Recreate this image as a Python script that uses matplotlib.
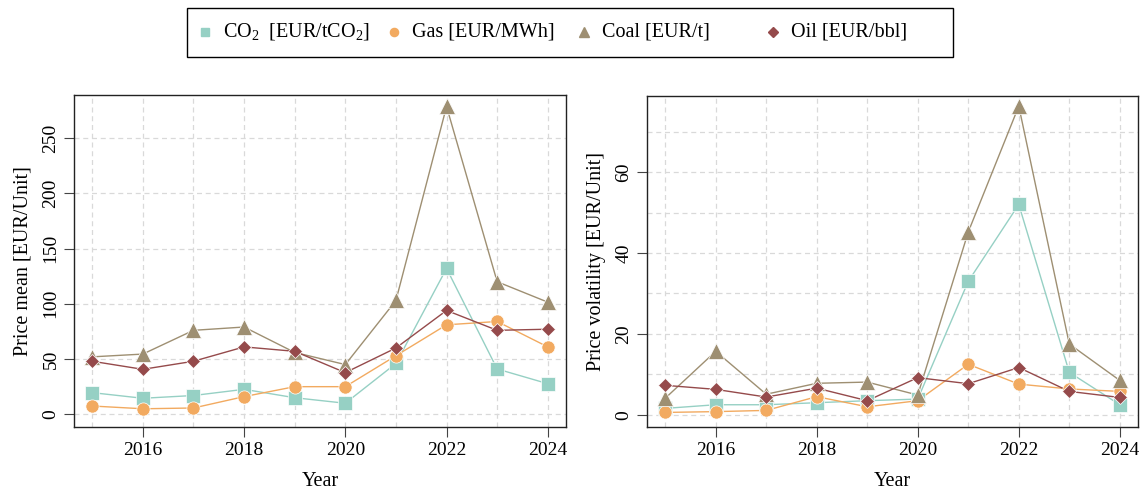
import numpy as np
import matplotlib.pyplot as plt
from matplotlib.ticker import MultipleLocator
from matplotlib.patches import Rectangle
from matplotlib.lines import Line2D

plt.rcParams['font.family'] = ['Liberation Serif', 'DejaVu Serif']
plt.rcParams['mathtext.fontset'] = 'custom'
plt.rcParams['mathtext.rm'] = 'Liberation Serif'
plt.rcParams['mathtext.it'] = 'Liberation Serif'
plt.rcParams['font.size'] = 14

years = [2015, 2016, 2017, 2018, 2019, 2020, 2021, 2022, 2023, 2024]

# price mean
co2_mean = [19.6, 14.5, 17, 22.6, 15, 10, 46, 132, 41, 27.7]
gas_mean = [7.5, 5, 5.7, 16, 25, 25, 53, 81, 84, 61]
coal_mean = [52, 54.5, 76, 79, 56, 45, 103, 278.6, 120, 101.5]
oil_mean = [48, 40.7, 48, 61, 57, 37.7, 60, 94, 76, 77]

# price volatility
co2_vol = [1.6, 2.5, 2.5, 3, 3.5, 3.9, 33, 52, 10.5, 2.5]
gas_vol = [0.6, 0.8, 1.1, 4.5, 2, 3.5, 12.5, 7.6, 6.4, 5.8]
coal_vol = [4.1, 15.7, 5.1, 7.8, 8.1, 4.9, 45.2, 76.3, 17.5, 8.5]
oil_vol = [7.3, 6.3, 4.4, 6.6, 3.5, 9.2, 7.7, 11.7, 5.8, 4.3]

labels = ['CO$_2$  [EUR/tCO$_2$]', 'Gas [EUR/MWh]', 'Coal [EUR/t]', 'Oil [EUR/bbl]']
colors = ['#96d0c4', '#f2aa60', '#9e8f72', '#954a4b']
markers = ['s', 'o', '^', 'D']
msizes = [10, 9.5, 11.5, 7.5]

W, H = 1148, 493
fig = plt.figure(figsize=(W / 100, H / 100), dpi=100)
ax1 = fig.add_axes([74/W, 1-427/H, 492/W, 332/H])
ax2 = fig.add_axes([647/W, 1-427/H, 491/W, 331/H])


def draw(ax, series, ylabel, ylim, major, minor):
    for vals, c, m, ms in zip(series, colors, markers, msizes):
        ax.plot(years, vals, color=c, lw=1, zorder=2)
        ax.plot(years, vals, ls='none', marker=m, ms=ms, color=c,
                markeredgecolor='white', markeredgewidth=0.5, zorder=3)
    ax.set_xlim(2014.64, 2024.36)
    ax.set_ylim(*ylim)
    ax.set_xticks([2016, 2018, 2020, 2022, 2024])
    ax.xaxis.set_minor_locator(MultipleLocator(1))
    ax.yaxis.set_major_locator(MultipleLocator(major))
    ax.yaxis.set_minor_locator(MultipleLocator(minor))
    ax.grid(True, which='both', ls=(0, (4, 3)), color='#d9d9d9', lw=0.9, zorder=0)
    ax.tick_params(which='minor', length=0)
    ax.tick_params(which='major', length=7, direction='out', color='#444444')
    ax.tick_params(axis='x', pad=4)
    for lbl in ax.get_yticklabels():
        lbl.set_rotation(90)
        lbl.set_va('center')
    for s in ax.spines.values():
        s.set_color('#222222')
        s.set_linewidth(1)
    ax.set_xlabel('Year', labelpad=9, fontsize=14.5)
    ax.set_ylabel(ylabel, labelpad=7, fontsize=14.5)


draw(ax1, [co2_mean, gas_mean, coal_mean, oil_mean], 'Price mean [EUR/Unit]',
     (-11.5, 289), 50, 50)
draw(ax2, [co2_vol, gas_vol, coal_vol, oil_vol], 'Price volatility [EUR/Unit]',
     (-3, 78.8), 20, 10)

# legend box with equal-width columns
fig.patches.append(Rectangle((187/W, 1-57/H), 766/W, 49/H, transform=fig.transFigure,
                             fill=False, edgecolor='black', lw=1))
for i, (lab, c, m, ms) in enumerate(zip(labels, colors, markers, msizes)):
    x = (205 + 189.3 * i) / W
    y = 1 - 32/H
    fig.add_artist(Line2D([x], [y], ls='none', marker=m, color=c, ms=ms * 0.62,
                          transform=fig.transFigure))
    fig.text(x + 18/W, y, lab, va='center', ha='left', fontsize=14.5)

fig.savefig('out.png', dpi=100)
